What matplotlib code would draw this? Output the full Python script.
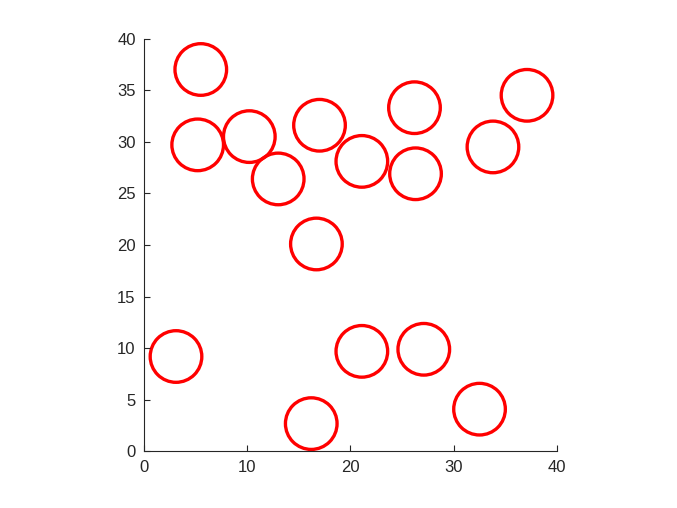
import matplotlib.pyplot as plt
from matplotlib.patches import Circle

plt.rcParams['font.family'] = ['Liberation Sans', 'DejaVu Sans']

# circle centres
cx = [5.5, 5.2, 10.2, 13.0, 17.0, 21.1, 26.2, 26.3, 33.8, 37.1,
      16.7, 3.1, 21.1, 27.1, 32.5, 16.2]
cy = [37.0, 29.7, 30.5, 26.4, 31.6, 28.1, 33.3, 26.9, 29.5, 34.5,
      20.1, 9.2, 9.7, 9.9, 4.1, 2.7]
radius = 2.5

fig = plt.figure(figsize=(6.77, 5.08), dpi=100)
ax = fig.add_axes([0.2127, 0.1102, 0.610, 0.815])

for x, y in zip(cx, cy):
    ax.add_patch(Circle((x, y), radius, fill=False, edgecolor='red', linewidth=2.4))

ax.set_xlim(0, 40)
ax.set_ylim(0, 40)
ax.set_aspect('equal')
ax.set_xticks([0, 10, 20, 30, 40])
ax.set_yticks(range(0, 41, 5))
for s in ['top', 'right']:
    ax.spines[s].set_visible(False)
for s in ['left', 'bottom']:
    ax.spines[s].set_color('#262626')
    ax.spines[s].set_linewidth(0.8)
ax.tick_params(direction='in', length=4, width=0.8, colors='#262626',
               labelsize=12, pad=6)

fig.savefig('out.png', dpi=100)
